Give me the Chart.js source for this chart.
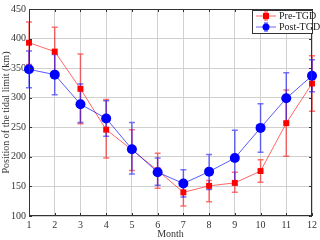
<!DOCTYPE html>
<html><head><meta charset="utf-8">
<script src="https://cdn.jsdelivr.net/npm/chart.js@4"></script>
<style>html,body{margin:0;padding:0;background:#fff}#w{width:320px;height:240px}</style>
</head><body><div id="w"><canvas id="c"></canvas></div>
<script>
const months = [1,2,3,4,5,6,7,8,9,10,11,12];
const preMean  = [393,378,315,246,212,177,140,151,156,176,257,324];
const preUpper = [428,419,374,297,246,206,155,160,174,195,313,371];
const preLower = [356,340,256,198,177,147,117,124,140,157,201,277];
const postMean  = [348,339,289,265,213,174,155,175,198,249,299,337];
const postUpper = [379,373,323,295,258,198,178,204,245,290,342,364];
const postLower = [317,305,258,235,171,152,132,145,153,208,258,310];
const yTicks = [100,150,200,250,300,350,400,450];
const seriesNames = ['Pre-TGD','Post-TGD'];

const FONT = 'Liberation Serif';
const errs = [
  {up: preUpper, lo: preLower, color: 'rgba(255,0,0,0.55)'},
  {up: postUpper, lo: postLower, color: 'rgba(0,0,255,0.55)'}
];
const errPlugin = {
  id: 'err',
  beforeDatasetsDraw(chart) {
    const ctx = chart.ctx, xs = chart.scales.x, ys = chart.scales.y;
    ctx.save();
    errs.forEach(e => {
      ctx.strokeStyle = e.color; ctx.lineWidth = 1.5;
      months.forEach((m, i) => {
        const x = xs.getPixelForValue(m);
        const y1 = ys.getPixelForValue(e.up[i]), y2 = ys.getPixelForValue(e.lo[i]);
        ctx.beginPath();
        ctx.moveTo(x, y1); ctx.lineTo(x, y2);
        ctx.moveTo(x-3, y1); ctx.lineTo(x+3, y1);
        ctx.moveTo(x-3, y2); ctx.lineTo(x+3, y2);
        ctx.stroke();
      });
    });
    ctx.restore();
  },
  afterDraw(chart) {
    const ctx = chart.ctx, a = chart.chartArea, xs = chart.scales.x, ys = chart.scales.y;
    ctx.save();
    ctx.strokeStyle = '#333'; ctx.lineWidth = 1;
    ctx.strokeRect(a.left+0.5, a.top+0.5, a.right-a.left-1, a.bottom-a.top-1);
    ctx.beginPath();
    yTicks.forEach(v => {
      const y = Math.round(ys.getPixelForValue(v))+0.5;
      ctx.moveTo(a.left, y); ctx.lineTo(a.left+3, y);
      ctx.moveTo(a.right, y); ctx.lineTo(a.right-3, y);
    });
    months.forEach(m => {
      const x = Math.round(xs.getPixelForValue(m))+0.5;
      ctx.moveTo(x, a.bottom); ctx.lineTo(x, a.bottom-3);
      ctx.moveTo(x, a.top); ctx.lineTo(x, a.top+3);
    });
    ctx.stroke();
    // legend
    const lx = 252, ly = 10, lw = 60, lh = 23;
    ctx.fillStyle = '#fff'; ctx.fillRect(lx, ly, lw, lh);
    ctx.strokeStyle = '#333'; ctx.strokeRect(lx+0.5, ly+0.5, lw, lh);
    const cols = [['rgba(255,0,0,0.6)','#ff0000','rgba(255,0,0,0.55)'],['rgba(0,0,255,0.6)','#0000ff','rgba(0,0,255,0.55)']];
    seriesNames.forEach((n, i) => {
      const y = ly + 6 + i*11, cx = 266;
      ctx.strokeStyle = cols[i][0]; ctx.lineWidth = 1;
      ctx.beginPath(); ctx.moveTo(256, y); ctx.lineTo(276, y); ctx.stroke();
      ctx.strokeStyle = cols[i][2]; ctx.lineWidth = 1.5;
      ctx.beginPath(); ctx.moveTo(cx, y-4); ctx.lineTo(cx, y+4);
      ctx.moveTo(cx-2, y-4); ctx.lineTo(cx+2, y-4); ctx.moveTo(cx-2, y+4); ctx.lineTo(cx+2, y+4); ctx.stroke();
      ctx.fillStyle = cols[i][1];
      if (i === 0) ctx.fillRect(cx-3, y-3, 6, 6);
      else { ctx.beginPath(); ctx.arc(cx, y, 3.5, 0, Math.PI*2); ctx.fill(); }
      ctx.fillStyle = '#222'; ctx.font = '10px "' + FONT + '"'; ctx.textBaseline = 'middle';
      ctx.fillText(n, 279, y+0.5);
    });
    ctx.restore();
  }
};

new Chart(document.getElementById('c'), {
  type: 'line',
  data: {
    datasets: [
      {label: seriesNames[0], data: months.map((m,i)=>({x:m,y:preMean[i]})), clip: false,
       borderColor: 'rgba(255,0,0,0.6)', borderWidth: 1, backgroundColor: '#ff0000',
       pointStyle: 'rect', pointRadius: 4.2, pointBorderWidth: 0, pointBackgroundColor: '#ff0000', order: 2},
      {label: seriesNames[1], data: months.map((m,i)=>({x:m,y:postMean[i]})), clip: false,
       borderColor: 'rgba(0,0,255,0.65)', borderWidth: 1, backgroundColor: '#0000ff',
       pointStyle: 'circle', pointRadius: 5, pointBorderWidth: 0, pointBackgroundColor: '#0000ff', order: 1}
    ]
  },
  options: {
    responsive: true, maintainAspectRatio: false, animation: false,
    layout: {padding: {left: 0, right: 7, top: 6, bottom: 0}},
    plugins: {legend: {display: false}, tooltip: {enabled: false}},
    scales: {
      x: {type: 'linear', min: 1, max: 12,
          afterBuildTicks: s => { s.ticks = months.map(v => ({value: v})); },
          afterFit: s => { s.height = 24; },
          grid: {color: '#d0d0d0', borderDash: [1,2], drawTicks: false},
          border: {display: false},
          ticks: {color: '#333', font: {family: FONT, size: 10}, padding: 3},
          title: {display: true, text: 'Month', color: '#333', font: {family: FONT, size: 10}, padding: 0}},
      y: {min: 100, max: 450,
          afterBuildTicks: s => { s.ticks = yTicks.map(v => ({value: v})); },
          afterFit: s => { s.width = 29; },
          grid: {color: '#d0d0d0', borderDash: [1,2], drawTicks: false},
          border: {display: false},
          ticks: {color: '#333', font: {family: FONT, size: 10}, padding: 3},
          title: {display: true, text: 'Position of the tidal limit (km)', color: '#333', font: {family: FONT, size: 10}, padding: 0}}
    }
  },
  plugins: [errPlugin]
});
</script></body></html>
